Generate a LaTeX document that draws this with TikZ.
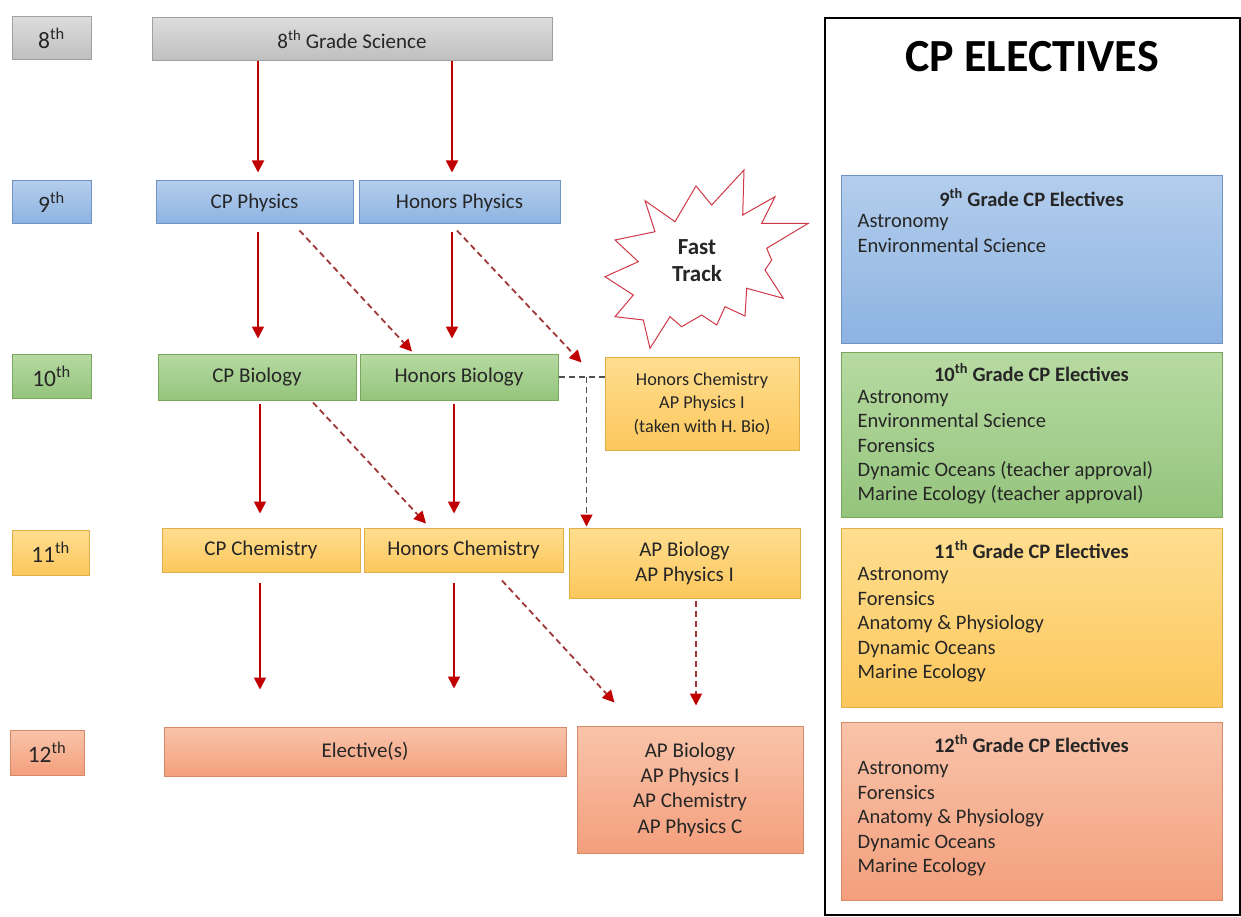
\documentclass[tikz,border=0pt]{standalone}
\usepackage{fontspec}
\setmainfont{Carlito}
\usetikzlibrary{arrows.meta}
\definecolor{txt}{HTML}{262626}
\definecolor{grayT}{HTML}{DCDCDC}\definecolor{grayB}{HTML}{BFBFBF}\definecolor{grayD}{HTML}{A0A0A0}
\definecolor{blueT}{HTML}{B3CDEC}\definecolor{blueB}{HTML}{8DB3E2}\definecolor{blueD}{HTML}{6F93C2}
\definecolor{greenT}{HTML}{B7DAA2}\definecolor{greenB}{HTML}{94C47C}\definecolor{greenD}{HTML}{78A85E}
\definecolor{yelT}{HTML}{FFDE90}\definecolor{yelB}{HTML}{FCC75C}\definecolor{yelD}{HTML}{E2AE4A}
\definecolor{orT}{HTML}{F9C4AA}\definecolor{orB}{HTML}{F39F7C}\definecolor{orD}{HTML}{D5886A}
\definecolor{arrred}{HTML}{C00000}
\definecolor{dashred}{HTML}{A03838}
\definecolor{dashgray}{HTML}{505050}
\definecolor{starred}{HTML}{D03848}
\tikzset{
  box/.style={rectangle, draw, line width=1pt, inner sep=0pt, align=center, text=txt,
    font=\fontsize{21}{25}\selectfont},
  graybox/.style={box, draw=grayD, top color=grayT, bottom color=grayB},
  bluebox/.style={box, draw=blueD, top color=blueT, bottom color=blueB},
  greenbox/.style={box, draw=greenD, top color=greenT, bottom color=greenB},
  yelbox/.style={box, draw=yelD, top color=yelT, bottom color=yelB},
  orbox/.style={box, draw=orD, top color=orT, bottom color=orB},
  grade/.style={font=\fontsize{23.5}{26}\selectfont},
  sz/.style 2 args={minimum width=#1, minimum height=#2},
  arr/.style={draw=arrred, line width=1.8pt, -{Triangle[length=12pt,width=12pt]}},
  darr/.style={draw=dashred, line width=1.8pt, dash pattern=on 6pt off 4pt,
    -{Triangle[length=12pt,width=12pt,color=arrred]}},
  gdash/.style={draw=dashgray, line width=1.2pt, dash pattern=on 6pt off 4pt},
  head/.style={inner sep=0pt, text=txt, font=\bfseries\fontsize{20.5}{24.5}\selectfont},
  item/.style={inner sep=0pt, anchor=base west, text=txt, font=\fontsize{20.5}{24.5}\selectfont},
}
\begin{document}
\begin{tikzpicture}[x=1pt,y=-1pt]
\useasboundingbox (0,0) rectangle (1241,917);
\fill[white] (0,0) rectangle (1241,917);

% grade labels
\node[graybox, grade, sz={79}{43}] (g8) at (51.5,38.5) {8\textsuperscript{th}};
\node[bluebox, grade, sz={79}{43}] (g9) at (51.5,202.5) {9\textsuperscript{th}};
\node[greenbox, grade, sz={79}{44}] (g10) at (51.5,376) {10\textsuperscript{th}};
\node[yelbox, grade, sz={77}{45}] (g11) at (50.5,552.5) {11\textsuperscript{th}};
\node[orbox, grade, sz={74}{45}] (g12) at (47,752.5) {12\textsuperscript{th}};

% courses
\node[graybox, sz={400}{43}] (sci) at (352,39.5) {8\textsuperscript{th} Grade Science};
\node[bluebox, sz={197}{43}] (cpphys) at (254.5,202.5) {CP Physics};
\node[bluebox, sz={201}{43}] (hphys) at (459.5,202.5) {Honors Physics};
\node[greenbox, sz={198}{46}] (cpbio) at (257,377) {CP Biology};
\node[greenbox, sz={198}{46}] (hbio) at (459,377) {Honors Biology};
\node[yelbox, sz={194}{93}, font=\fontsize{18.2}{23.5}\selectfont] (hchem10) at (702,403.5)
  {Honors Chemistry\\AP Physics I\\(taken with H. Bio)};
\node[yelbox, sz={198}{44}] (cpchem) at (261,550) {CP Chemistry};
\node[yelbox, sz={199}{44}] (hchem) at (463.5,550) {Honors Chemistry};
\node[yelbox, sz={231}{70}] (apbio11) at (684.5,563) {AP Biology\\AP Physics I};
\node[orbox, sz={402}{49}] (elect) at (365,751.5) {Elective(s)};
\node[orbox, sz={226}{127}, font=\fontsize{21}{25.3}\selectfont] (ap12) at (690,789.5)
  {AP Biology\\AP Physics I\\AP Chemistry\\AP Physics C};

% solid arrows
\draw[arr, shorten >=8pt] ([xshift=3.5pt]cpphys.north |- sci.south) -- ([xshift=3.5pt]cpphys.north);
\draw[arr, shorten >=8pt] ([xshift=-7.5pt]hphys.north |- sci.south) -- ([xshift=-7.5pt]hphys.north);
\draw[arr, shorten <=8pt, shorten >=15pt] ([xshift=3.5pt]cpphys.south) -- ([xshift=3.5pt]cpphys.south |- cpbio.north);
\draw[arr, shorten <=8pt, shorten >=15pt] ([xshift=-7.5pt]hphys.south) -- ([xshift=-7.5pt]hphys.south |- hbio.north);
\draw[arr, shorten <=3pt, shorten >=14pt] ([xshift=3pt]cpbio.south) -- ([xshift=3pt]cpbio.south |- cpchem.north);
\draw[arr, shorten <=3pt, shorten >=14pt] ([xshift=-5pt]hbio.south) -- ([xshift=-5pt]hbio.south |- hchem.north);
\draw[arr, shorten <=10pt, shorten >=37pt] ([xshift=-1pt]cpchem.south) -- ([xshift=-1pt]cpchem.south |- elect.north);
\draw[arr, shorten <=10pt, shorten >=38pt] ([xshift=-9.5pt]hchem.south) -- ([xshift=-9.5pt]hchem.south |- elect.north);

% dashed arrows
\draw[darr] ([shift={(45,6)}]cpphys.south) -- ([shift={(-47,-2)}]hbio.north);
\draw[darr] ([shift={(-2.5,6)}]hphys.south) -- ([shift={(-23,6)}]hchem10.north west);
\draw[darr] ([shift={(56,2)}]cpbio.south) -- ([shift={(-37.5,-4)}]hchem.north);
\draw[darr] ([shift={(38.5,8)}]hchem.south) -- ([shift={(38,-23)}]ap12.north west);
\draw[gdash] (hbio.east) -- (hbio.east -| hchem10.west);
\coordinate (fork) at ([xshift=28pt]hbio.east);
\draw[gdash, -{Triangle[length=12pt,width=12pt,color=arrred]}, shorten >=1pt] (fork) -- (fork |- apbio11.north);
\draw[darr, shorten <=2pt, shorten >=20pt] ([xshift=11.5pt]apbio11.south) -- ([xshift=11.5pt]apbio11.south |- ap12.north);

% fast track star
\filldraw[fill=white, draw=starred, line width=1pt, line join=miter]
 (645,200.7) -- (675,221.7) -- (696,186) -- (711.7,205) -- (744,170) -- (742.7,215)
 -- (775,196.7) -- (761.7,223.3) -- (808.3,223.3) -- (766.7,248.3) -- (771.7,260)
 -- (765,270) -- (783.3,298.3) -- (746.7,288.3) -- (745,316) -- (725,306.7)
 -- (716.7,325) -- (701.7,315) -- (681.7,326.7) -- (670,316.7) -- (650,348.3)
 -- (643.3,320) -- (615,316.7) -- (633.3,295) -- (605,276.7) -- (638.3,261.7)
 -- (615,240) -- (655,231.7) -- cycle;
\node[inner sep=0pt, align=center, text=txt, font=\bfseries\fontsize{23}{27}\selectfont] (fast) at (697,261) {Fast\\Track};

% electives panel
\node[rectangle, draw=black, line width=1.5pt, fill=white, sz={415}{897}, inner sep=0pt] (panel) at (1032.5,466.5) {};
\node[inner sep=0pt, text=black, font=\bfseries\fontsize{46}{50}\selectfont] (title) at (1032,57) {CP ELECTIVES};

\node[bluebox, sz={381}{167}] (e9) at (1031.5,259.5) {};
\node[greenbox, sz={381}{165}] (e10) at (1031.5,434.5) {};
\node[yelbox, sz={381}{179}] (e11) at (1031.5,617.5) {};
\node[orbox, sz={381}{178}] (e12) at (1031.5,811) {};

\node[head] (e9h) at ([shift={(0,22)}]e9.north) {9\textsuperscript{th} Grade CP Electives};
\node[head] (e10h) at ([shift={(0,21)}]e10.north) {10\textsuperscript{th} Grade CP Electives};
\node[head] (e11h) at ([shift={(0,22)}]e11.north) {11\textsuperscript{th} Grade CP Electives};
\node[head] (e12h) at ([shift={(0,22)}]e12.north) {12\textsuperscript{th} Grade CP Electives};

\foreach \t [count=\i] in {Astronomy, Environmental Science}
  \node[item] (e9i\i) at ([shift={(17,{52.5+(\i-1)*24.2})}]e9.north west) {\t};
\foreach \t [count=\i] in {Astronomy, Environmental Science, Forensics,
    Dynamic Oceans (teacher approval), Marine Ecology (teacher approval)}
  \node[item] (e10i\i) at ([shift={(17,{52+(\i-1)*24.25})}]e10.north west) {\t};
\foreach \t [count=\i] in {Astronomy, Forensics, Anatomy \& Physiology, Dynamic Oceans, Marine Ecology}
  \node[item] (e11i\i) at ([shift={(17,{53+(\i-1)*24.5})}]e11.north west) {\t};
\foreach \t [count=\i] in {Astronomy, Forensics, Anatomy \& Physiology, Dynamic Oceans, Marine Ecology}
  \node[item] (e12i\i) at ([shift={(17,{53+(\i-1)*24.5})}]e12.north west) {\t};
\end{tikzpicture}
\end{document}
